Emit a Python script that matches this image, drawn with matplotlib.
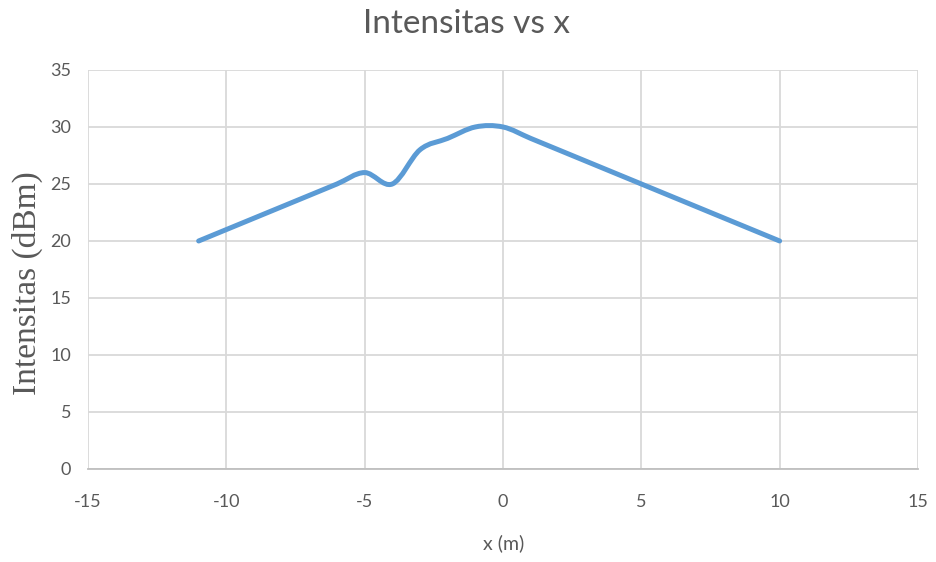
import matplotlib
matplotlib.use("Agg")
import matplotlib.pyplot as plt
from matplotlib.path import Path
from matplotlib.patches import PathPatch
import numpy as np

plt.rcParams["axes.unicode_minus"] = False

# measured intensity along the track
x_m = [-11, -10, -9, -8, -7, -6, -5, -4, -3, -2, -1, 0,
       1, 2, 3, 4, 5, 6, 7, 8, 9, 10]
intensitas = [20, 21, 22, 23, 24, 25, 26, 25, 28, 29, 30, 30,
              29, 28, 27, 26, 25, 24, 23, 22, 21, 20]

xticks = [-15, -10, -5, 0, 5, 10, 15]
yticks = [0, 5, 10, 15, 20, 25, 30, 35]

grey = "#595959"
blue = "#5B9BD5"

fig = plt.figure(figsize=(9.37, 5.62), dpi=100)
ax = fig.add_axes([0.0939, 0.1655, 0.8858, 0.71])

# smoothed line: cubic bezier segments through the points (spreadsheet style)
px = np.array(x_m, dtype=float)
py = np.array(intensitas, dtype=float)
verts = [(px[0], py[0])]
codes = [Path.MOVETO]
n = len(px)
for i in range(n - 1):
    p0 = (px[max(i - 1, 0)], py[max(i - 1, 0)])
    p1 = (px[i], py[i])
    p2 = (px[i + 1], py[i + 1])
    p3 = (px[min(i + 2, n - 1)], py[min(i + 2, n - 1)])
    c1 = (p1[0] + (p2[0] - p0[0]) / 6, p1[1] + (p2[1] - p0[1]) / 6)
    c2 = (p2[0] - (p3[0] - p1[0]) / 6, p2[1] - (p3[1] - p1[1]) / 6)
    verts += [c1, c2, p2]
    codes += [Path.CURVE4] * 3
ax.add_patch(PathPatch(Path(verts, codes), fill=False, edgecolor=blue,
                       lw=3.6, capstyle="round", joinstyle="round", zorder=3))

ax.set_xlim(-15, 15)
ax.set_ylim(0, 35)
ax.set_xticks(xticks)
ax.set_yticks(yticks)
ax.grid(True, color="#D9D9D9", lw=1.3)
ax.set_axisbelow(True)
for s in ["top", "right", "left"]:
    ax.spines[s].set_visible(False)
ax.spines["bottom"].set_color("#BFBFBF")
ax.spines["bottom"].set_linewidth(1.3)
ax.tick_params(length=0, labelsize=13, labelcolor=grey)
ax.tick_params(axis="x", pad=18)
ax.tick_params(axis="y", pad=12)
for lab in ax.get_xticklabels() + ax.get_yticklabels():
    lab.set_family("Lato")

fig.text(0.498, 0.958, "Intensitas vs x", ha="center", va="center",
         fontsize=24, color=grey, family="Lato")
fig.text(0.537, 0.033, "x (m)", ha="center", va="center",
         fontsize=14, color=grey, family="Lato")
fig.text(0.029, 0.497, "Intensitas (dBm)", ha="center", va="center",
         rotation=90, fontsize=24, color=grey, family="Liberation Serif")

fig.savefig("out.png", dpi=100)
